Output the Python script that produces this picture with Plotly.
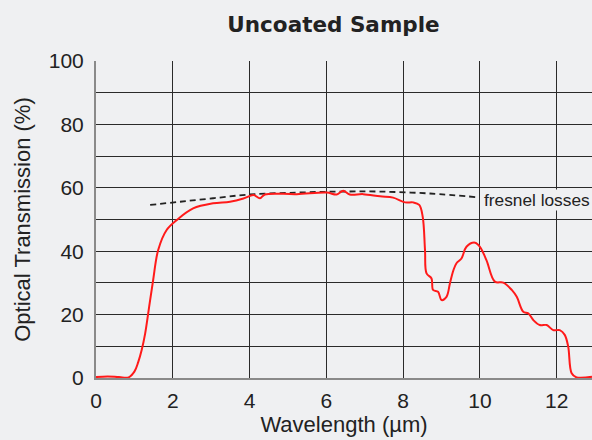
import plotly.graph_objects as go

wavelength = [0.0, 0.3, 0.6, 0.85, 1.0, 1.1, 1.19, 1.28, 1.36, 1.41, 1.49, 1.62, 1.84, 2.10, 2.53, 3.05, 3.49, 3.84, 4.10, 4.27, 4.40,
              5.23, 6.01, 6.27, 6.44, 6.61, 6.96, 7.40, 7.74, 8.05, 8.26, 8.42, 8.51, 8.57, 8.61, 8.74, 8.78, 8.91,
              9.0, 9.13, 9.22, 9.31, 9.39, 9.52, 9.65, 9.87, 10.0, 10.17, 10.39, 10.61, 10.83, 10.96, 11.13, 11.26,
              11.39, 11.56, 11.74, 11.91, 12.08, 12.21, 12.30, 12.39, 12.52, 12.92]
transmission = [0.3, 0.5, 0.3, 0.2, 2.0, 5.0, 8.8, 14.0, 20.4, 24.6, 31.0, 40.4, 46.7, 49.8, 53.5, 55.1, 55.6, 56.6, 57.7, 56.7, 57.9,
                58.0, 58.5, 57.9, 59.1, 57.9, 58.0, 57.3, 56.9, 55.4, 55.4, 54.6, 50.9, 40.4, 33.0, 31.4, 27.8, 27.2,
                24.6, 25.6, 29.9, 34.0, 36.2, 37.7, 41.4, 42.7, 41.4, 37.2, 30.4, 30.1, 27.8, 25.6, 20.9, 20.4,
                18.3, 16.7, 16.7, 15.1, 15.1, 13.6, 9.9, 1.5, 0.2, 0.4]

fresnel_x = [1.41, 2.19, 3.05, 4.01, 5.23, 6.3, 7.4, 8.7, 9.96]
fresnel_y = [54.6, 55.6, 56.7, 57.9, 58.5, 58.8, 58.8, 58.2, 57.0]

x_ticks = [0, 2, 4, 6, 8, 10, 12]
y_ticks = [0, 20, 40, 60, 80, 100]

bg = "#eff0f2"
fig = go.Figure()
fig.add_trace(go.Scatter(x=fresnel_x, y=fresnel_y, mode="lines", line=dict(color="#222", width=1.8, dash="6px,4px"),
                         line_shape="spline", hoverinfo="skip"))
fig.add_trace(go.Scatter(x=wavelength, y=transmission, mode="lines", line=dict(color="#ff1a1a", width=2),
                         line_shape="spline"))
fig.add_annotation(x=fresnel_x[-1], y=fresnel_y[-1], text="fresnel losses", showarrow=False,
                   xanchor="left", yanchor="middle", xshift=5, yshift=-3,
                   font=dict(family="Liberation Sans, Arial", size=17.3, color="#222"), bgcolor=bg,
                   borderpad=0)

fig.update_layout(
    width=592, height=440, paper_bgcolor=bg, plot_bgcolor=bg, showlegend=False,
    margin=dict(l=96, r=0, t=61, b=62),
    title=dict(text="<b>Uncoated Sample</b>", x=333.5 / 592, xanchor="center", y=1 - 24 / 440, yanchor="middle",
               font=dict(family="DejaVu Sans", size=21.5, color="#222")),
    font=dict(family="Liberation Sans, Arial", color="#222"),
    xaxis=dict(range=[0, 12.92], tickvals=x_ticks, showgrid=True, gridcolor="#2a2a2a", gridwidth=1,
               zeroline=False, showline=True, linecolor="#8a8a8a", linewidth=2,
               tickfont=dict(size=21), ticks="", ticklabelstandoff=3,
               title=dict(text="Wavelength (µm)", font=dict(size=22), standoff=4)),
    yaxis=dict(range=[0, 100], tickvals=y_ticks, showgrid=True, gridcolor="#2a2a2a", gridwidth=1,
               minor=dict(tickvals=[10, 30, 50, 70, 90], showgrid=True, gridcolor="#2a2a2a", gridwidth=1),
               zeroline=False, showline=True, linecolor="#8a8a8a", linewidth=2,
               tickfont=dict(size=21), ticks="", ticklabelstandoff=6,
               title=dict(text="Optical Transmission (%)", font=dict(size=22), standoff=12)),
)
fig.write_html("out.html", config={"displayModeBar": False},
               post_script="document.body.style.margin='0';document.body.style.overflow='hidden';")
